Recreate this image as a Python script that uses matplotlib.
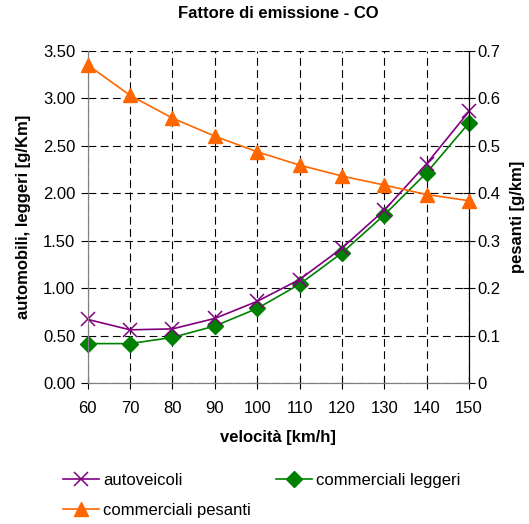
import matplotlib.pyplot as plt
from matplotlib.ticker import FormatStrFormatter

plt.rcParams['font.family'] = ['Liberation Sans', 'DejaVu Sans']

# Emission factors for CO by speed
velocita = [60, 70, 80, 90, 100, 110, 120, 130, 140, 150]
autoveicoli = [0.67, 0.56, 0.57, 0.68, 0.86, 1.09, 1.42, 1.82, 2.31, 2.86]
comm_leggeri = [0.415, 0.415, 0.48, 0.60, 0.785, 1.04, 1.37, 1.77, 2.215, 2.74]
comm_pesanti = [0.670, 0.606, 0.558, 0.520, 0.487, 0.459, 0.436, 0.417, 0.397, 0.384]

fig = plt.figure(figsize=(5.29, 5.24), dpi=100)
ax = fig.add_axes([0.1658, 0.2691, 0.7208, 0.6341])
ax2 = ax.twinx()

l1, = ax.plot(velocita, autoveicoli, color='#800080', lw=1.2, marker='x',
              ms=10, mew=1.1, label='autoveicoli', clip_on=False, zorder=5)
l2, = ax.plot(velocita, comm_leggeri, color='#008000', lw=1.2, marker='D',
              ms=8.5, label='commerciali leggeri', clip_on=False, zorder=4)
l3, = ax2.plot(velocita, comm_pesanti, color='#FF6600', lw=1.2, marker='^',
               ms=9.5, label='commerciali pesanti', clip_on=False, zorder=4)

ax.set_xlim(60, 150)
ax.set_ylim(0, 3.5)
ax2.set_ylim(0, 0.7)
ax.set_xticks(velocita)
ax.set_yticks([i * 0.5 for i in range(8)])
ax2.set_yticks([i * 0.1 for i in range(8)])
ax.yaxis.set_major_formatter(FormatStrFormatter('%.2f'))
ax2.set_yticklabels(['0', '0.1', '0.2', '0.3', '0.4', '0.5', '0.6', '0.7'])

ax.grid(True, color='black', linestyle=(0, (7, 4)), lw=0.8)
ax.set_axisbelow(True)

for a in (ax, ax2):
    a.spines['top'].set_visible(False)
    a.spines['left'].set_color('#808080')
    a.spines['bottom'].set_color('#808080')
    a.spines['right'].set_color('black')
    a.tick_params(labelsize=12, length=5)
ax.tick_params(axis='y', direction='out', pad=4)
ax.tick_params(axis='x', direction='inout', length=8, pad=9)
ax2.tick_params(axis='y', direction='inout', length=8, pad=2)

# titles and axis labels placed in figure coordinates
fig.text(0.5255, 0.975, 'Fattore di emissione - CO', fontsize=12,
         fontweight='bold', ha='center', va='center')
fig.text(0.5255, 0.166, 'velocità [km/h]', fontsize=12,
         fontweight='bold', ha='center', va='center')
fig.text(0.0435, 0.586, 'automobili, leggeri [g/Km]', fontsize=12,
         fontweight='bold', ha='center', va='center', rotation=90)
fig.text(0.979, 0.586, 'pesanti [g/km]', fontsize=12,
         fontweight='bold', ha='center', va='center', rotation=90)

fig.legend([l1, l3, l2], [l1.get_label(), l3.get_label(), l2.get_label()],
           ncol=2, loc='upper left', bbox_to_anchor=(0.119, 0.097), frameon=False,
           fontsize=12, handlelength=2.15, handletextpad=0.25, columnspacing=1.5,
           labelspacing=0.9, borderpad=0, borderaxespad=0)

fig.savefig('out.png', dpi=100)
